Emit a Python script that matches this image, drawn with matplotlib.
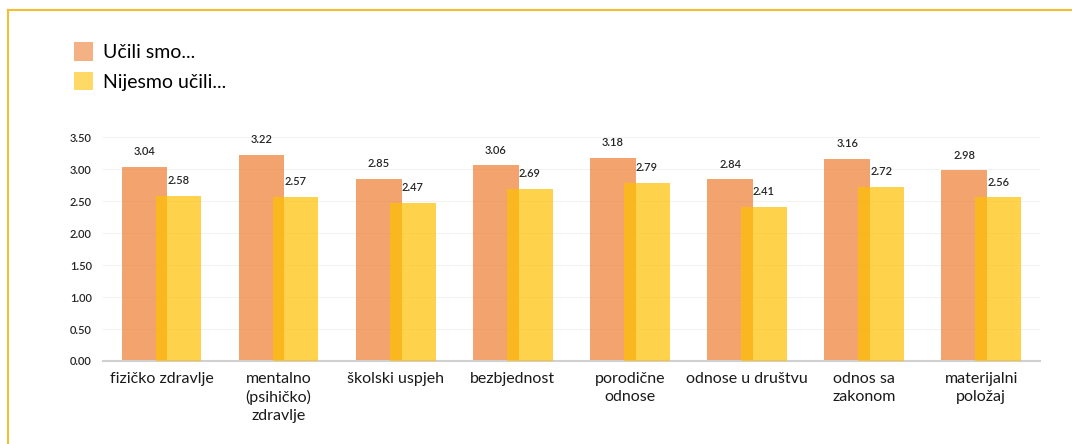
import numpy as np
import matplotlib.pyplot as plt
from matplotlib.patches import Patch

# data
categories = ['fizičko zdravlje', 'mentalno\n(psihičko)\nzdravlje', 'školski uspjeh',
              'bezbjednost', 'porodične\nodnose', 'odnose u društvu',
              'odnos sa\nzakonom', 'materijalni\npoložaj']
ucili = [3.04, 3.22, 2.85, 3.06, 3.18, 2.84, 3.16, 2.98]
nijesmo = [2.58, 2.57, 2.47, 2.69, 2.79, 2.41, 2.72, 2.56]
series_names = ['Učili smo...', 'Nijesmo učili...']
yticks = [0.0, 0.5, 1.0, 1.5, 2.0, 2.5, 3.0, 3.5]

plt.rcParams['font.family'] = ['Lato', 'DejaVu Sans']

fig = plt.figure(figsize=(10.72, 4.44), dpi=100)
ax = fig.add_axes([0.096, 0.187, 0.874, 0.504])

x = np.arange(len(categories))
w = 0.39
off = 0.145
b1 = ax.bar(x - off, ucili, w, color='#ED7D31', alpha=0.7, zorder=2)
b2 = ax.bar(x + off, nijesmo, w, color='#FFC000', alpha=0.7, zorder=3)

for bars in (b1, b2):
    for r in bars:
        ax.annotate('%.2f' % r.get_height(), (r.get_x() + r.get_width() / 2, r.get_height()),
                    xytext=(0, 7), textcoords='offset points', ha='center', va='bottom',
                    fontsize=8, color='#262626', fontweight='semibold')

ax.set_xlim(-0.5, len(categories) - 0.5)
ax.set_ylim(0, 3.5)
ax.set_yticks(yticks)
ax.set_yticklabels(['%.2f' % t for t in yticks], fontsize=8, color='#262626',
                   fontweight='semibold')
ax.set_xticks(x)
ax.set_xticklabels(categories, fontsize=11.5, color='#1a1a1a', linespacing=1.35, va='top')
ax.tick_params(axis='both', length=0)
ax.tick_params(axis='y', pad=8)
ax.tick_params(axis='x', pad=8)
ax.grid(axis='y', color='#F2F2F2', linewidth=0.8, zorder=0)
for s in ['top', 'right', 'left']:
    ax.spines[s].set_visible(False)
ax.spines['bottom'].set_color('#D0D0D0')
ax.spines['bottom'].set_linewidth(1.5)

handles = [Patch(facecolor='#ED7D31', alpha=0.6), Patch(facecolor='#FFC000', alpha=0.6)]
fig.legend(handles, series_names, loc='upper left', bbox_to_anchor=(0.053, 0.945),
           frameon=False, fontsize=14, handlelength=0.95, handleheight=1.1,
           handletextpad=0.5, labelspacing=0.55)

# yellow frame (top and left)
fig.add_artist(plt.Line2D([0.0075, 1.0], [0.977, 0.977], color='#F5BE32', linewidth=1.5,
                          transform=fig.transFigure))
fig.add_artist(plt.Line2D([0.0075, 0.0075], [0.0, 0.977], color='#F5BE32', linewidth=1.5,
                          transform=fig.transFigure))

fig.savefig('out.png', dpi=100)
